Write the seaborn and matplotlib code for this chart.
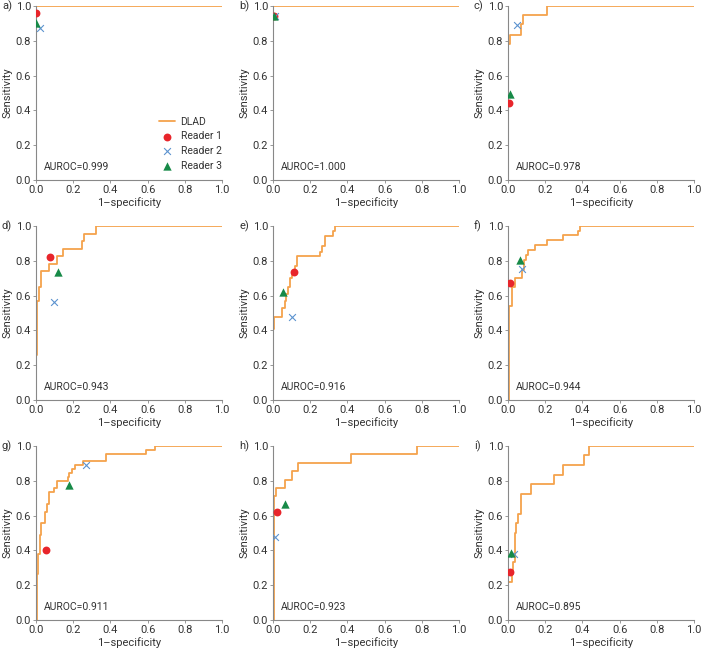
import matplotlib
matplotlib.use("Agg")
import matplotlib.pyplot as plt
import seaborn as sns
import pandas as pd

# Panel labels and AUROC values
panels = ["a)", "b)", "c)", "d)", "e)", "f)", "g)", "h)", "i)"]
auroc = ["0.999", "1.000", "0.978", "0.943", "0.916", "0.944", "0.911", "0.923", "0.895"]

# DLAD ROC curves (step points)
dlad_fpr = [
    [0, 0, 1],
    [0, 0, 1],
    [0, 0, 0.0125, 0.071, 0.08, 0.209, 1],
    [0, 0, 0.007, 0.016, 0.027, 0.072, 0.114, 0.147, 0.249, 0.258, 0.322, 1],
    [0, 0.002, 0.005, 0.05, 0.0625, 0.071, 0.08, 0.089, 0.10, 0.116, 0.13, 0.252, 0.2625, 0.277, 0.323, 0.334, 1],
    [0, 0.003, 0.023, 0.039, 0.075, 0.086, 0.095, 0.108, 0.147, 0.208, 0.296, 0.376, 0.385, 1],
    [0, 0.004, 0.0125, 0.021, 0.027, 0.048, 0.057, 0.072, 0.098, 0.111, 0.17, 0.179, 0.195, 0.209, 0.25, 0.376, 0.594, 0.642, 1],
    [0, 0.004, 0.018, 0.066, 0.104, 0.134, 0.421, 0.774, 1],
    [0, 0.002, 0.023, 0.027, 0.036, 0.041, 0.054, 0.068, 0.121, 0.246, 0.298, 0.407, 0.4375, 1],
]
dlad_tpr = [
    [0, 1, 1],
    [0, 1, 1],
    [0, 0.78, 0.834, 0.895, 0.948, 1.0, 1.0],
    [0, 0.26, 0.57, 0.65, 0.74, 0.784, 0.826, 0.868, 0.914, 0.956, 1.0, 1.0],
    [0, 0.41, 0.475, 0.53, 0.567, 0.61, 0.65, 0.70, 0.735, 0.77, 0.826, 0.853, 0.887, 0.945, 0.973, 1.0, 1.0],
    [0, 0.54, 0.648, 0.70, 0.746, 0.807, 0.835, 0.864, 0.89, 0.918, 0.946, 0.971, 1.0, 1.0],
    [0, 0.264, 0.377, 0.49, 0.555, 0.62, 0.665, 0.734, 0.761, 0.80, 0.822, 0.845, 0.87, 0.889, 0.912, 0.956, 0.979, 1.0, 1.0],
    [0, 0.711, 0.761, 0.807, 0.857, 0.902, 0.952, 1.0, 1.0],
    [0, 0.22, 0.267, 0.335, 0.5, 0.558, 0.612, 0.723, 0.78, 0.835, 0.889, 0.946, 1.0, 1.0],
]

# Reader operating points (1-specificity, sensitivity), one per panel
reader1_x = [0.0, 0.004, 0.005, 0.075, 0.111, 0.009, 0.054, 0.02, 0.009]
reader1_y = [0.958, 0.945, 0.445, 0.822, 0.735, 0.675, 0.40, 0.62, 0.277]
reader2_x = [0.02, 0.01, 0.048, 0.098, 0.104, 0.075, 0.268, 0.009, 0.03]
reader2_y = [0.874, 0.945, 0.889, 0.564, 0.475, 0.753, 0.893, 0.478, 0.382]
reader3_x = [0.0, 0.006, 0.009, 0.116, 0.054, 0.065, 0.177, 0.063, 0.018]
reader3_y = [0.905, 0.94, 0.493, 0.736, 0.62, 0.807, 0.774, 0.665, 0.386]

ORANGE = "#F5A24C"
RED = "#E8252B"
BLUE = "#5C93CF"
GREEN = "#178A48"
TEXT = "#333333"

sns.set_theme(style="ticks")
plt.rcParams["font.family"] = ["Roboto", "DejaVu Sans"]
plt.rcParams["font.size"] = 7.5
plt.rcParams["text.color"] = TEXT
plt.rcParams["axes.labelcolor"] = TEXT
plt.rcParams["xtick.color"] = "#888888"
plt.rcParams["ytick.color"] = "#888888"
plt.rcParams["xtick.labelcolor"] = TEXT
plt.rcParams["ytick.labelcolor"] = TEXT

W, H = 705, 649
fig = plt.figure(figsize=(W / 100, H / 100), dpi=100)

col_left = [36, 273, 508]
row_top = [6, 226, 446]
aw, ah = 186, 174
ticks = [0, 0.2, 0.4, 0.6, 0.8, 1.0]
tick_labels = ["0.0", "0.2", "0.4", "0.6", "0.8", "1.0"]

for i in range(9):
    r, c = divmod(i, 3)
    left = col_left[c] / W
    bottom = 1 - (row_top[r] + ah) / H
    ax = fig.add_axes([left, bottom, aw / W, ah / H])

    df = pd.DataFrame({"fpr": dlad_fpr[i], "tpr": dlad_tpr[i]})
    sns.lineplot(data=df, x="fpr", y="tpr", ax=ax, color=ORANGE, lw=1.3,
                 sort=False, estimator=None, drawstyle="steps-post",
                 label="DLAD", zorder=2)
    sns.scatterplot(x=[reader1_x[i]], y=[reader1_y[i]], ax=ax, color=RED,
                    marker="o", s=32, linewidth=0, label="Reader 1", zorder=3)
    sns.scatterplot(x=[reader2_x[i]], y=[reader2_y[i]], ax=ax, color=BLUE,
                    marker="x", s=24, linewidth=0.8, label="Reader 2", zorder=3)
    sns.scatterplot(x=[reader3_x[i]], y=[reader3_y[i]], ax=ax, color=GREEN,
                    marker="^", s=36, linewidth=0, label="Reader 3", zorder=3)

    ax.set_xlim(0, 1)
    ax.set_ylim(0, 1)
    ax.set_xticks(ticks)
    ax.set_yticks(ticks)
    ax.set_xticklabels(tick_labels, fontsize=8)
    ax.set_yticklabels(tick_labels, fontsize=8)
    ax.tick_params(length=2, width=0.6, pad=1.5)
    for s in ["left", "bottom"]:
        ax.spines[s].set_color("#888888")
        ax.spines[s].set_linewidth(0.8)
    sns.despine(ax=ax)
    ax.set_xlabel("1\u2013specificity", fontsize=8, labelpad=1.5)
    ax.set_ylabel("Sensitivity", fontsize=8, labelpad=2)

    ax.text(0.04, 0.075, "AUROC=" + auroc[i], transform=ax.transAxes,
            fontsize=7.5, va="center", ha="left")
    fig.text((col_left[c] - 34) / W, 1 - row_top[r] / H, panels[i],
             fontsize=8, va="center", ha="left")

    if i == 0:
        ax.legend(loc="lower right", bbox_to_anchor=(1.02, 0.03), frameon=False,
                  fontsize=7.5, handlelength=1.6, handletextpad=0.5,
                  labelspacing=0.45, borderaxespad=0)
    else:
        ax.get_legend().remove()

fig.savefig("out.png", dpi=100)
